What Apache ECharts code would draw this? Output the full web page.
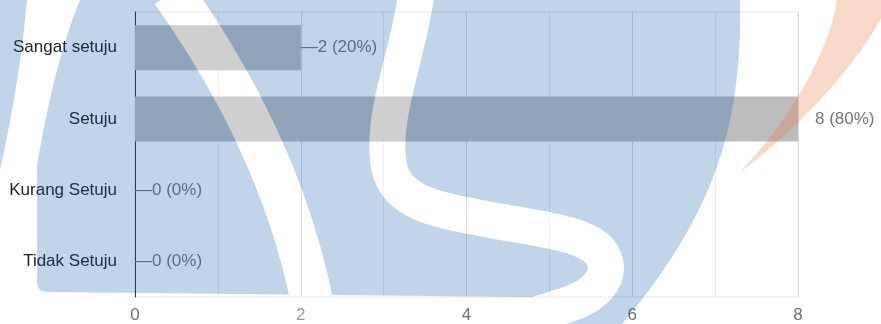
<!DOCTYPE html>
<html><head><meta charset="utf-8">
<script src="https://cdn.jsdelivr.net/npm/echarts@6/dist/echarts.min.js"></script>
<style>html,body{margin:0;padding:0;background:#fff}#c{width:881px;height:324px}</style>
</head><body><div id="c"></div>
<script>
// ---- data ----
const categories = ['Sangat setuju', 'Setuju', 'Kurang Setuju', 'Tidak Setuju'];
const counts = [2, 8, 0, 0];
const xTickLabels = ['0', '2', '4', '6', '8'];
const xMin = 0, xMax = 8, xStep = 2;

const FONT = 'Liberation Sans, Arial, sans-serif';
const FS = 17;
const total = counts.reduce((a, b) => a + b, 0);

// ---- watermark geometry helpers ----
function cubic(p0, p1, p2, p3, n) {
  n = n || 30; const pts = [];
  for (let i = 0; i <= n; i++) {
    const t = i / n, u = 1 - t;
    pts.push([u*u*u*p0[0] + 3*u*u*t*p1[0] + 3*u*t*t*p2[0] + t*t*t*p3[0],
              u*u*u*p0[1] + 3*u*u*t*p1[1] + 3*u*t*t*p2[1] + t*t*t*p3[1]]);
  }
  return pts;
}
function quad(p0, p1, p2, n) {
  n = n || 30; const pts = [];
  for (let i = 0; i <= n; i++) {
    const t = i / n, u = 1 - t;
    pts.push([u*u*p0[0] + 2*u*t*p1[0] + t*t*p2[0], u*u*p0[1] + 2*u*t*p1[1] + t*t*p2[1]]);
  }
  return pts;
}

const BLUE = 'rgba(11,92,174,0.26)';
const basePts = [].concat(
  [[80, 0], [740, 0]],
  cubic([740, 0], [742, 120], [718, 210], [622, 324]),
  [[540, 324], [530, 297], [47, 292]],
  quad([47, 292], [37, 292], [37, 282], 6),
  [[37, 165]],
  quad([37, 165], [55, 60], [80, 0])
);
const sliverPts = [].concat([[0, 0], [27, 0]], quad([27, 0], [20, 80], [0, 170]));
const diagPts = quad([172, -8], [291, 159.5], [318, 335], 40);
const sPts = [].concat(
  cubic([417, -10], [407, 60], [383, 110], [388, 160]),
  cubic([388, 160], [392, 200], [430, 208], [470, 216]),
  cubic([470, 216], [530, 228], [585, 232], [600, 252]),
  cubic([600, 252], [614, 270], [602, 292], [572, 303]),
  cubic([572, 303], [548, 312], [515, 320], [480, 332])
);
const orangePts = [].concat(
  cubic([837, -1], [830, 50], [790, 120], [740, 172]),
  cubic([740, 172], [790, 135], [850, 75], [882, 17]),
  [[882, -1]]
);

const wm = [
  {type: 'polygon', zlevel: 1, z: 1, silent: true, shape: {points: basePts}, style: {fill: BLUE}},
  {type: 'polygon', zlevel: 1, z: 1, silent: true, shape: {points: sliverPts}, style: {fill: BLUE}},
  {type: 'polyline', zlevel: 1, z: 2, silent: true, shape: {points: diagPts},
   style: {stroke: '#000', lineWidth: 42, fill: null, lineJoin: 'round', blend: 'destination-out'}},
  {type: 'polyline', zlevel: 1, z: 2, silent: true, shape: {points: sPts},
   style: {stroke: '#000', lineWidth: 36, fill: null, lineJoin: 'round', blend: 'destination-out'}},
  {type: 'polyline', zlevel: 1, z: 3, silent: true, shape: {points: diagPts},
   style: {stroke: 'rgba(255,255,255,0.28)', lineWidth: 42, fill: null, lineJoin: 'round'}},
  {type: 'polyline', zlevel: 1, z: 3, silent: true, shape: {points: sPts},
   style: {stroke: 'rgba(255,255,255,0.28)', lineWidth: 36, fill: null, lineJoin: 'round'}},
  {type: 'polygon', zlevel: 1, z: 4, silent: true, shape: {points: orangePts}, style: {fill: 'rgba(230,120,60,0.28)'}}
];

const chart = echarts.init(document.getElementById('c'), null, {renderer: 'canvas'});
chart.setOption({
  animation: false,
  textStyle: {fontFamily: FONT},
  grid: {left: 135, right: 83, top: 12, bottom: 27, show: true, borderColor: '#e3e3e3', borderWidth: 1, backgroundColor: 'transparent'},
  xAxis: {
    type: 'value', min: xMin, max: xMax, interval: xStep,
    axisLine: {show: false}, axisTick: {show: false},
    axisLabel: {color: '#6f6f6f', fontSize: FS, fontFamily: FONT, margin: 10,
      formatter: v => { const i = Math.round((v - xMin) / xStep); return xTickLabels[i] !== undefined ? xTickLabels[i] : ''; }},
    splitLine: {show: true, lineStyle: {color: '#d8d8d8', width: 1}},
    minorTick: {show: false, splitNumber: 2},
    minorSplitLine: {show: true, lineStyle: {color: '#ebebeb', width: 1}}
  },
  yAxis: {
    type: 'category', inverse: true, data: categories,
    axisLine: {show: true, lineStyle: {color: '#333', width: 1}},
    axisTick: {show: false},
    axisLabel: {color: '#222', fontSize: FS, fontFamily: FONT, margin: 18},
    splitLine: {show: false}
  },
  series: [{
    type: 'bar', data: counts, barWidth: 45, silent: true,
    itemStyle: {color: '#bdbdbd'},
    label: {
      show: true, position: 'right', distance: 0,
      formatter: p => {
        const pct = total ? Math.round(p.value / total * 100) : 0;
        const lead = p.value >= xMax ? '{gap|—}' : '{dash|—}';
        return lead + '{t|' + p.value + ' (' + pct + '%)}';
      },
      rich: {
        dash: {color: '#757575', fontSize: FS, fontFamily: FONT},
        gap: {color: 'rgba(0,0,0,0)', fontSize: FS, fontFamily: FONT},
        t: {color: '#757575', fontSize: FS, fontFamily: FONT}
      }
    }
  }],
  graphic: {elements: wm}
});
</script>
</body></html>
